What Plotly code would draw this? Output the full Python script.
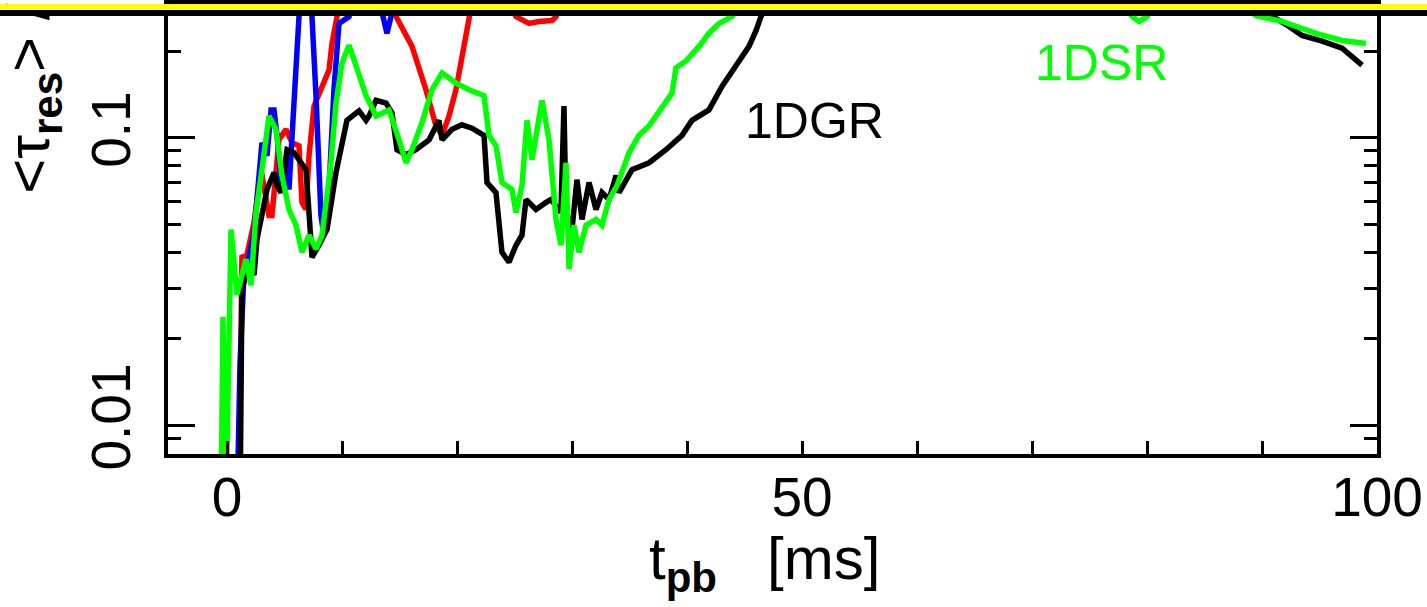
import math
import plotly.graph_objects as go

# ---------------- data (t_pb in ms, <tau_res> values) ----------------
gr_t = [1.13, 1.30, 1.91, 2.35, 2.61, 3.04, 3.48, 4.09, 4.35, 4.70,
        5.22, 5.83, 6.26, 6.87, 7.13, 7.39, 8.00, 8.70, 9.48, 10.0,
        10.43, 11.48, 12.09, 12.35, 12.96, 13.83, 14.35, 14.78, 15.57, 16.43,
        17.57, 18.43, 18.70, 19.57, 20.43, 21.30, 22.35, 22.61, 23.39, 23.91,
        24.52, 25.13, 25.65, 26.0, 26.87, 27.74, 28.17, 29.04, 29.30, 29.48,
        30.0, 30.43, 30.87, 31.48, 32.09, 32.61, 33.22, 33.83, 34.09, 35.22,
        36.70, 38.17, 39.57, 40.43, 41.91, 43.04, 44.26, 45.39, 46.0, 46.43,
        48.0, 58.4, 75.8, 87.1, 90.35, 91.22, 92.35, 93.48, 95.22, 96.96,
        98.70]
gr_v = [0.005, 0.0298, 0.0361, 0.0333, 0.0444, 0.0550, 0.0661, 0.0757, 0.0682, 0.0645,
        0.0909, 0.0887, 0.0839, 0.0775, 0.0550, 0.0384, 0.0423, 0.0480, 0.0757, 0.0984,
        0.115, 0.124, 0.115, 0.119, 0.135, 0.132, 0.122, 0.0909, 0.0873, 0.0909,
        0.0984, 0.115, 0.0984, 0.107, 0.111, 0.108, 0.102, 0.0699, 0.0645, 0.0400,
        0.0369, 0.0423, 0.0458, 0.0610, 0.0563, 0.0596, 0.0610, 0.0550, 0.129, 0.0550,
        0.0480, 0.0715, 0.0520, 0.0699, 0.0563, 0.0645, 0.0610, 0.0739, 0.0645, 0.0775,
        0.0819, 0.0909, 0.102, 0.115, 0.125, 0.151, 0.178, 0.208, 0.236, 0.264,
        0.35, 0.5, 0.45, 0.32, 0.264, 0.260, 0.244, 0.227, 0.217, 0.205,
        0.179]

sr_t = [-0.52, -0.35, -0.09, 0.35, 0.87, 1.65, 2.09, 2.52, 3.04, 3.65,
        4.26, 4.78, 5.39, 6.00, 6.52, 7.13, 7.74, 8.26, 9.04, 9.48,
        10.0, 10.61, 11.22, 12.09, 12.96, 14.09, 14.96, 15.57, 16.09, 16.96,
        17.83, 18.70, 19.91, 21.04, 22.35, 22.78, 23.39, 23.91, 24.78, 25.13,
        25.65, 26.09, 26.52, 27.39, 28.0, 28.61, 29.04, 29.48, 29.74, 30.17,
        30.61, 31.22, 32.09, 32.61, 33.22, 33.91, 34.96, 35.83, 36.70, 37.83,
        38.70, 39.04, 39.91, 41.04, 41.91, 42.78, 43.91, 46.26, 58.4, 75.8,
        78.7, 79.3, 80.0, 82.8, 88.0, 89.48, 91.74, 94.70, 96.96, 99.04]
sr_v = [0.005, 0.0238, 0.005, 0.0480, 0.0284, 0.0378, 0.0307, 0.0550, 0.0775, 0.119,
        0.107, 0.0739, 0.0563, 0.0496, 0.0400, 0.0458, 0.0410, 0.0458, 0.0819, 0.132,
        0.182, 0.210, 0.178, 0.140, 0.119, 0.125, 0.0984, 0.0819, 0.0909, 0.113,
        0.147, 0.168, 0.155, 0.147, 0.140, 0.102, 0.0938, 0.0699, 0.0661, 0.0550,
        0.0682, 0.115, 0.0839, 0.135, 0.0984, 0.0520, 0.0423, 0.0819, 0.0349, 0.0496,
        0.0400, 0.0496, 0.0520, 0.0496, 0.0610, 0.0682, 0.0887, 0.102, 0.110, 0.129,
        0.143, 0.175, 0.185, 0.208, 0.231, 0.250, 0.264, 0.35, 0.5, 0.4,
        0.264, 0.254, 0.264, 0.4, 0.3, 0.266, 0.254, 0.231, 0.218, 0.213]

red_t = [1.04, 1.30, 1.65, 2.35, 2.96, 3.65, 3.91, 4.52, 5.13, 5.65,
         6.26, 6.52, 6.87, 7.13, 7.57, 8.26, 8.87, 9.13, 9.57, 10.17,
         13.22, 14.70, 16.09, 17.30, 18.17, 18.70, 19.30, 19.91, 20.43, 21.04,
         21.91, 24.52, 25.13, 26.26, 27.13, 28.26, 28.61, 30.17, 40.0]
red_v = [0.005, 0.039, 0.0378, 0.0508, 0.0775, 0.0537, 0.0537, 0.0984, 0.107, 0.0961,
         0.0938, 0.0596, 0.0563, 0.0866, 0.129, 0.149, 0.172, 0.213, 0.264, 0.4,
         0.5, 0.264, 0.208, 0.147, 0.110, 0.102, 0.119, 0.147, 0.192, 0.264,
         0.4, 0.3, 0.264, 0.250, 0.254, 0.256, 0.264, 0.4, 0.6]

blue_t = [0.87, 1.13, 1.48, 1.91, 2.35, 2.78, 3.04, 3.48, 3.83, 4.09,
          4.35, 4.78, 5.13, 5.39, 6.00, 6.26, 6.78, 7.39, 7.74, 8.00,
          8.17, 8.43, 8.87, 9.30, 9.74, 10.61, 11.48, 13.57, 13.91, 14.26,
          14.96, 16.70]
blue_v = [0.005, 0.0163, 0.0341, 0.0384, 0.047, 0.0699, 0.0961, 0.0866, 0.125, 0.125,
          0.102, 0.0645, 0.0819, 0.0661, 0.197, 0.264, 0.4, 0.264, 0.140, 0.0699,
          0.0537, 0.0458, 0.0661, 0.147, 0.250, 0.264, 0.5, 0.264, 0.231, 0.264,
          0.5, 0.6]

x_tickvals = [0, 10, 20, 30, 40, 50, 60, 70, 80, 90, 100]
x_ticktext = ["0", "", "", "", "", "50", "", "", "", "", "100"]
y_tickvals = [0.01, 0.1]
y_ticktext = ["0.01", "0.1"]
y_minor = [0.008, 0.009, 0.02, 0.03, 0.04, 0.05, 0.06, 0.07, 0.08, 0.09, 0.2, 0.3]

FONT = "Liberation Sans, Arial, Helvetica, sans-serif"
W, H = 1427, 607
ML, MR, MT, MB = 168, 50, 0, 153
PW = W - ML - MR
PH = H - MT - MB

fig = go.Figure()
LW = 5.5
fig.add_trace(go.Scatter(x=red_t, y=red_v, mode="lines", line=dict(color="#ff0000", width=LW)))
fig.add_trace(go.Scatter(x=blue_t, y=blue_v, mode="lines", line=dict(color="#0000ff", width=LW)))
fig.add_trace(go.Scatter(x=gr_t, y=gr_v, mode="lines", line=dict(color="#000000", width=LW)))
fig.add_trace(go.Scatter(x=sr_t, y=sr_v, mode="lines", line=dict(color="#00ff00", width=LW)))

fig.update_layout(
    width=W, height=H,
    margin=dict(l=ML, r=MR, t=MT, b=MB, pad=0),
    paper_bgcolor="white", plot_bgcolor="white",
    showlegend=False,
    font=dict(family=FONT, size=55, color="black"),
)
fig.update_xaxes(
    range=[-5.13, 100], showgrid=False, zeroline=False,
    showline=True, linecolor="black", linewidth=4, mirror=True,
    ticks="inside", ticklen=13, tickwidth=3, tickcolor="black",
    tickmode="array", tickvals=x_tickvals, ticktext=x_ticktext,
    ticklabelstandoff=-8,
    tickfont=dict(family=FONT, size=55, color="black"),
)
fig.update_yaxes(
    type="log", range=[-2.100, -0.5345], showgrid=False, zeroline=False,
    showline=True, linecolor="black", linewidth=4, mirror="ticks",
    ticks="inside", ticklen=27, tickwidth=3, tickcolor="black",
    tickmode="array", tickvals=y_tickvals, ticktext=y_ticktext,
    tickangle=-90, ticklabelstandoff=12,
    tickfont=dict(family=FONT, size=55, color="black"),
    minor=dict(ticks="inside", ticklen=13, tickwidth=3, tickcolor="black",
               tickmode="array", tickvals=y_minor, showgrid=False),
)

def px_x(p):
    return (p - ML) / PW

def px_y(p):
    return 1 - (p - MT) / PH

# curve labels
fig.add_annotation(x=51.1, y=math.log10(0.1145), xref="x", yref="y",
                   text="1DGR", showarrow=False,
                   font=dict(family=FONT, size=50, color="black"))
fig.add_annotation(x=76.0, y=math.log10(0.182), xref="x", yref="y",
                   text="1DSR", showarrow=False,
                   font=dict(family=FONT, size=50, color="#00ff00"))

# axis titles
fig.add_annotation(x=px_x(764), y=px_y(524), xref="paper", yref="paper",
                   xanchor="center", yanchor="top",
                   text="t<sub><b>pb</b></sub>&nbsp;&nbsp;&nbsp;[ms]", showarrow=False,
                   font=dict(family=FONT, size=60, color="black"))
fig.add_annotation(x=px_x(33), y=px_y(194), xref="paper", yref="paper",
                   xanchor="center", yanchor="bottom", textangle=-90,
                   text="<τ<sub><b>res</b></sub>>&nbsp;/", showarrow=False,
                   font=dict(family=FONT, size=60, color="black"))

# top banner (black rule with yellow strip above), drawn last so it covers the title's end
fig.add_annotation(x=px_x(0), y=1, xref="paper", yref="paper",
                   xanchor="left", yanchor="top", text=" ", showarrow=False,
                   width=W, height=12, bgcolor="black", borderpad=0, borderwidth=0,
                   font=dict(size=1))
fig.add_annotation(x=px_x(0), y=1, xref="paper", yref="paper",
                   xanchor="left", yanchor="top", text=" ", showarrow=False,
                   width=W, height=6, bgcolor="#ffff00", borderpad=0, borderwidth=0,
                   font=dict(size=1))

fig.write_html("out.html", config={"displayModeBar": False},
               post_script="document.body.style.margin='0';")
